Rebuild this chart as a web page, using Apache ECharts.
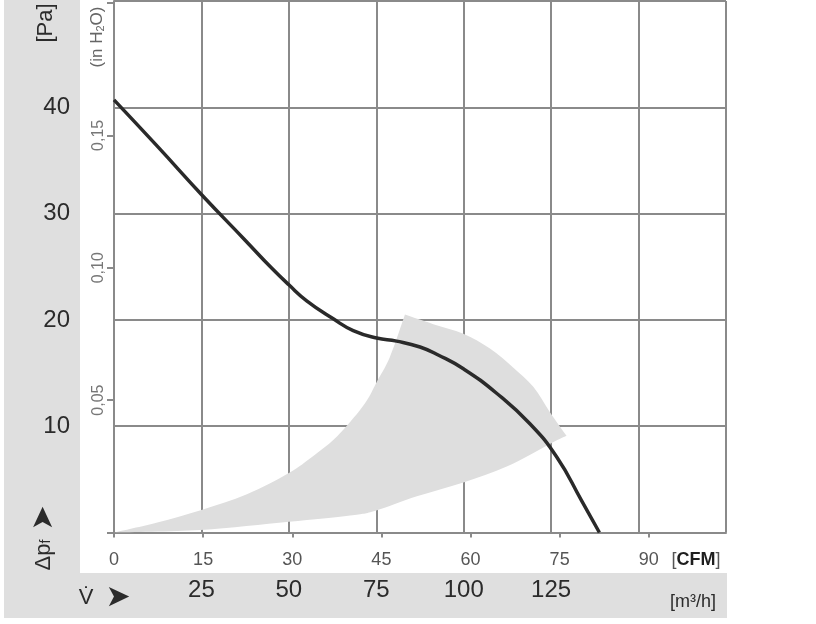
<!DOCTYPE html>
<html>
<head>
<meta charset="utf-8">
<script src="https://cdn.jsdelivr.net/npm/echarts@6/dist/echarts.min.js"></script>
<style>
  html, body { margin: 0; padding: 0; background: #fff; }
  #chart { width: 816px; height: 624px; }
</style>
</head>
<body>
<div id="chart"></div>
<script>
// fan curve, flow in m3/h, pressure in Pa
var curveFlow     = [0, 12.5, 25, 37.5, 45, 50, 55.1, 62.7, 68.4, 75.1, 80.8, 87.5, 92.7, 99.9, 109.4, 119, 126.6, 133.7, 138.8];
var curvePressure = [40.7, 36.3, 31.8, 27.5, 24.9, 23.3, 21.8, 20.1, 19.0, 18.3, 18.0, 17.45, 16.7, 15.4, 13.1, 10.2, 7.1, 3.0, 0];

// grey operating range, edges as [m3/h, Pa]
var envelopeLeft  = [[0, 0], [12.4, 0.95], [24.8, 2.1], [38, 3.6], [50, 5.6], [57, 7.2], [62.7, 8.7], [66.7, 10.1], [70.3, 11.5], [73, 12.8], [75.2, 14.2], [78.9, 16.5], [83.2, 20.5]];
var envelopeArc   = [[83.2, 20.5], [91.3, 19.6], [99.9, 18.7], [107.5, 17.3], [114.2, 15.5], [119.9, 13.7], [124.7, 11.3], [129.4, 9.1]];
var envelopeLower = [[129.4, 9.1], [125, 8.4], [112.3, 6.2], [99.9, 4.7], [86.6, 3.4], [74.8, 2.05], [67.5, 1.6], [50, 1.0], [24.8, 0.23], [0, 0]];

// axis ticks / labels
var flowM3hLabels    = [25, 50, 75, 100, 125];
var flowCfmTicks     = [0, 15, 30, 45, 60, 75, 90];
var pressurePaLabels = [10, 20, 30, 40];
var pressureInTicks  = [0, 0.05, 0.10, 0.15, 0.20];
var pressureInLabels = [0.05, 0.10, 0.15];

var M3H_PER_CFM = 1.69901;
var PA_PER_INH2O = 249.089;
var flowMax = 175;
var paMax = 50;

var curveData = [];
for (var i = 0; i < curveFlow.length; i++) {
    curveData.push([curveFlow[i], curvePressure[i]]);
}

var font = '"Liberation Sans", Arial, sans-serif';
var gridColor = '#8a8a8a';
var bandColor = '#dfdfdf';

// catmull-rom through pixel points, appended as cubic segments
function splinePath(pts) {
    var d = '';
    for (var k = 0; k < pts.length - 1; k++) {
        var p0 = pts[k - 1] || pts[k];
        var p1 = pts[k];
        var p2 = pts[k + 1];
        var p3 = pts[k + 2] || p2;
        var c1 = [p1[0] + (p2[0] - p0[0]) / 6, p1[1] + (p2[1] - p0[1]) / 6];
        var c2 = [p2[0] - (p3[0] - p1[0]) / 6, p2[1] - (p3[1] - p1[1]) / 6];
        d += ' C' + c1[0] + ',' + c1[1] + ' ' + c2[0] + ',' + c2[1] + ' ' + p2[0] + ',' + p2[1];
    }
    return d;
}

var chart = echarts.init(document.getElementById('chart'));

var option = {
    animation: false,
    backgroundColor: '#fff',
    textStyle: { fontFamily: font },
    grid: { left: 114, top: 1, right: 90, bottom: 91.5, containLabel: false },
    xAxis: [{
        type: 'value',
        min: 0, max: flowMax, interval: 25,
        axisLine: { show: true, lineStyle: { color: gridColor, width: 2 } },
        axisTick: { show: false },
        splitLine: { show: true, lineStyle: { color: gridColor, width: 2 } },
        axisLabel: {
            customValues: flowM3hLabels,
            margin: 46, fontSize: 24, color: '#2b2b2b', fontFamily: font
        }
    }, {
        type: 'value',
        position: 'bottom',
        min: 0, max: flowMax / M3H_PER_CFM,
        axisLine: { show: false },
        splitLine: { show: false },
        axisTick: {
            show: true, customValues: flowCfmTicks, length: 5,
            lineStyle: { color: gridColor, width: 2 }
        },
        axisLabel: {
            customValues: flowCfmTicks,
            margin: 19, fontSize: 18, color: '#555', fontFamily: font
        }
    }],
    yAxis: [{
        type: 'value',
        min: 0, max: paMax, interval: 10,
        axisLine: { show: true, lineStyle: { color: gridColor, width: 2 } },
        axisTick: { show: false },
        splitLine: { show: true, lineStyle: { color: gridColor, width: 2 } },
        axisLabel: {
            customValues: pressurePaLabels,
            margin: 44, fontSize: 24, color: '#2b2b2b', fontFamily: font
        }
    }, {
        type: 'value',
        position: 'left',
        min: 0, max: paMax / PA_PER_INH2O,
        axisLine: { show: false },
        splitLine: { show: false },
        axisTick: {
            show: true, customValues: pressureInTicks, length: 7,
            lineStyle: { color: gridColor, width: 2 }
        },
        axisLabel: {
            customValues: pressureInLabels,
            rotate: 90, margin: 7, fontSize: 16, color: '#777', fontFamily: font,
            formatter: function (v) { return v.toFixed(2).replace('.', ','); }
        }
    }],
    graphic: [
        { type: 'rect', z: -10, shape: { x: 4, y: 0, width: 76, height: 618 }, style: { fill: bandColor } },
        { type: 'rect', z: -10, shape: { x: 4, y: 573, width: 723, height: 45 }, style: { fill: bandColor } },
        {
            type: 'text', x: 46, y: 23, rotation: Math.PI / 2,
            style: { text: '[Pa]', font: '22px ' + font, fill: '#2b2b2b', align: 'center', verticalAlign: 'middle' }
        },
        {
            type: 'text', x: 97, y: 37, rotation: Math.PI / 2,
            style: {
                text: '(in H{s|2}O)', font: '17px ' + font, fill: '#666', align: 'center', verticalAlign: 'middle',
                rich: { s: { fontSize: 11, fontFamily: font, fill: '#666', verticalAlign: 'bottom', padding: [8, 0, 0, 0] } }
            }
        },
        {
            type: 'text', x: 44, y: 555, rotation: Math.PI / 2,
            style: {
                text: 'Δp{s|f}', font: '22px ' + font, fill: '#2b2b2b', align: 'center', verticalAlign: 'middle',
                rich: { s: { fontSize: 14, fontFamily: font, fill: '#2b2b2b', padding: [5, 0, 0, 0] } }
            }
        },
        {
            type: 'text', x: 44, y: 518, rotation: Math.PI / 2,
            style: { text: '➤', font: '30px "DejaVu Sans"', fill: '#2b2b2b', align: 'center', verticalAlign: 'middle' }
        },
        {
            type: 'text', x: 86, y: 598,
            style: { text: 'V\u0307', font: '22px ' + font, fill: '#2b2b2b', align: 'center', verticalAlign: 'middle' }
        },
        {
            type: 'text', x: 118, y: 598,
            style: { text: '➤', font: '30px "DejaVu Sans"', fill: '#2b2b2b', align: 'center', verticalAlign: 'middle' }
        },
        {
            type: 'text', x: 696, y: 560,
            style: {
                text: '[{b|CFM}]', font: '18px ' + font, fill: '#555', align: 'center', verticalAlign: 'middle',
                rich: { b: { fontSize: 18, fontFamily: font, fill: '#1e1e1e', fontWeight: 'bold' } }
            }
        },
        {
            type: 'text', x: 693, y: 602,
            style: { text: '[m³/h]', font: '18px ' + font, fill: '#2b2b2b', align: 'center', verticalAlign: 'middle' }
        }
    ],
    series: [{
        name: 'range',
        type: 'custom',
        xAxisIndex: 0, yAxisIndex: 0,
        silent: true,
        z: 1,
        data: [0],
        renderItem: function (params, api) {
            var edges = [envelopeLeft, envelopeArc, envelopeLower];
            var start = api.coord(envelopeLeft[0]);
            var d = 'M' + start[0] + ',' + start[1];
            edges.forEach(function (edge) {
                d += splinePath(edge.map(function (p) { return api.coord(p); }));
            });
            d += ' Z';
            return { type: 'path', shape: { pathData: d }, style: { fill: '#dedede' } };
        }
    }, {
        name: 'curve',
        type: 'line',
        xAxisIndex: 0, yAxisIndex: 0,
        data: curveData,
        smooth: 0.5,
        showSymbol: false,
        z: 5,
        lineStyle: { color: '#2a2a2a', width: 3.5 }
    }]
};

chart.setOption(option);
</script>
</body>
</html>
